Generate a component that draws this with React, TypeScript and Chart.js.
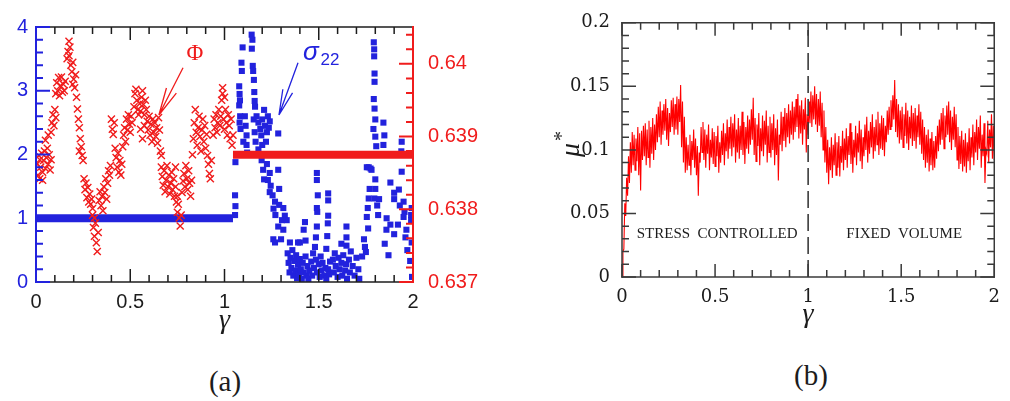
import React, { useEffect, useRef } from "react";
import { Chart, registerables } from "chart.js";

Chart.register(...registerables);

/* ---------- (a) packing fraction Φ and normal stress σ22 versus strain γ ---------- */

const gammaTickValues = [0, 0.5, 1, 1.5, 2];
const sigmaTickValues = [0, 1, 2, 3, 4];
const phiTickValues = [0.637, 0.638, 0.639, 0.64];

// σ22 is held at 1 while the sample is stress controlled
const sigmaControlled: [number, number][] = [[0, 1], [1.045, 1]];
// Φ stays put once the volume is fixed
const phiFixed: [number, number][] = [[1.045, 0.63875], [2, 0.63875]];

// [γ, Φ]
const phiSamples: [number, number][] = [
  [0.005, 0.63862], [0.01, 0.63847], [0.015, 0.63874], [0.02, 0.63842], [0.025, 0.63858], [0.03, 0.63877], [0.035, 0.63851], [0.04, 0.63867], [0.045, 0.6388], [0.05, 0.63856],
  [0.055, 0.63871], [0.06, 0.63884], [0.065, 0.63862], [0.07, 0.63875], [0.075, 0.63854], [0.08, 0.63868], [0.05, 0.63895], [0.065, 0.63902], [0.02, 0.63868], [0.035, 0.6384],
  [0.08, 0.63906], [0.085, 0.63919], [0.09, 0.6393], [0.095, 0.63915], [0.1, 0.63937], [0.105, 0.63926],
  [0.105, 0.63959], [0.11, 0.63974], [0.115, 0.63963], [0.12, 0.63981], [0.125, 0.63956], [0.13, 0.6397], [0.135, 0.63982], [0.14, 0.63961], [0.145, 0.63972], [0.15, 0.63963], [0.155, 0.63976],
  [0.165, 0.64007], [0.17, 0.64017], [0.175, 0.64031], [0.18, 0.64023], [0.175, 0.64011], [0.185, 0.63998], [0.19, 0.63989], [0.195, 0.64002], [0.2, 0.63979], [0.205, 0.63967], [0.21, 0.63985], [0.195, 0.63972],
  [0.215, 0.63954], [0.22, 0.63938], [0.225, 0.63924], [0.23, 0.63912], [0.235, 0.63897], [0.24, 0.63886], [0.245, 0.63874], [0.23, 0.6388], [0.25, 0.63867],
  [0.255, 0.63842], [0.26, 0.63827], [0.265, 0.63836], [0.27, 0.63816], [0.275, 0.6383], [0.28, 0.6381], [0.285, 0.63821], [0.29, 0.63807], [0.295, 0.63814], [0.3, 0.63801],
  [0.3, 0.63792], [0.305, 0.63775], [0.31, 0.63763], [0.315, 0.63781], [0.32, 0.63754], [0.325, 0.63742], [0.33, 0.63768], [0.31, 0.63788],
  [0.335, 0.63812], [0.34, 0.63824], [0.345, 0.63805], [0.35, 0.63818], [0.355, 0.63798], [0.36, 0.63831], [0.365, 0.63823], [0.37, 0.63842], [0.375, 0.63814], [0.38, 0.63836], [0.385, 0.63853], [0.39, 0.63847], [0.395, 0.6386],
  [0.4, 0.63924], [0.405, 0.6391], [0.41, 0.63903], [0.415, 0.63919],
  [0.42, 0.63884], [0.425, 0.63871], [0.43, 0.63858], [0.435, 0.63877], [0.44, 0.63851], [0.445, 0.63867], [0.45, 0.63847], [0.455, 0.63862], [0.46, 0.63886],
  [0.465, 0.63902], [0.47, 0.63912], [0.475, 0.63893], [0.48, 0.63924], [0.485, 0.63909], [0.49, 0.6393], [0.495, 0.63917], [0.5, 0.63906], [0.505, 0.63928], [0.51, 0.63919],
  [0.52, 0.63941], [0.525, 0.63959], [0.53, 0.63965], [0.535, 0.6395], [0.54, 0.63937], [0.545, 0.6393], [0.55, 0.63945], [0.555, 0.63935], [0.56, 0.63954], [0.565, 0.63963], [0.57, 0.63944], [0.575, 0.6393], [0.58, 0.6395], [0.585, 0.63937],
  [0.555, 0.6391], [0.565, 0.63897], [0.575, 0.63915], [0.59, 0.63921], [0.595, 0.63909], [0.6, 0.63928], [0.605, 0.63902], [0.61, 0.63917], [0.615, 0.63893], [0.62, 0.63924], [0.625, 0.63906], [0.63, 0.63919], [0.635, 0.639], [0.64, 0.63912], [0.645, 0.63891], [0.65, 0.63926], [0.655, 0.63909], [0.66, 0.6388], [0.665, 0.63874],
  [0.665, 0.63858], [0.67, 0.63845], [0.675, 0.63833], [0.68, 0.63853], [0.685, 0.63824], [0.69, 0.6384], [0.695, 0.6386], [0.7, 0.63831], [0.705, 0.63847], [0.71, 0.63821], [0.715, 0.63836], [0.72, 0.63851], [0.725, 0.63827], [0.73, 0.63842], [0.735, 0.63818], [0.74, 0.63831], [0.74, 0.63858],
  [0.745, 0.6381], [0.75, 0.63796], [0.755, 0.63807], [0.76, 0.63788], [0.765, 0.63777], [0.77, 0.63792], [0.75, 0.63818],
  [0.775, 0.63823], [0.78, 0.63839], [0.785, 0.63849], [0.79, 0.63831], [0.795, 0.6386], [0.8, 0.63842], [0.805, 0.63827], [0.81, 0.63853], [0.815, 0.63836], [0.82, 0.63818], [0.825, 0.6384],
  [0.83, 0.63875], [0.835, 0.63897], [0.84, 0.63919], [0.845, 0.63937], [0.85, 0.63906], [0.855, 0.63888], [0.86, 0.63912], [0.865, 0.63928], [0.87, 0.639], [0.875, 0.6388], [0.88, 0.63909], [0.885, 0.63924], [0.89, 0.63893], [0.895, 0.63915], [0.9, 0.63884], [0.905, 0.63903], [0.91, 0.63874],
  [0.915, 0.63862], [0.92, 0.63849], [0.925, 0.63842], [0.93, 0.63867],
  [0.94, 0.63902], [0.945, 0.63924], [0.95, 0.63912], [0.955, 0.6393], [0.96, 0.63906], [0.965, 0.63919], [0.97, 0.63937], [0.975, 0.63915], [0.98, 0.63928], [0.985, 0.6395], [0.99, 0.63959], [0.995, 0.63924],
  [1.0, 0.6391], [1.005, 0.63937], [1.01, 0.63919], [1.015, 0.63902], [1.02, 0.6393], [1.025, 0.63915], [1.03, 0.63897], [1.035, 0.63924], [1.04, 0.63888], [1.0, 0.63954], [0.99, 0.63967], [1.045, 0.63902],
];

// [γ, σ22]
const sigmaSamples: [number, number][] = [
  [1.056, 1.05], [1.058, 1.19], [1.056, 1.36], [1.058, 1.88],
  [1.078, 3.07], [1.08, 2.95], [1.082, 2.85], [1.078, 2.77], [1.083, 2.6], [1.08, 2.5], [1.09, 3.44], [1.092, 3.31], [1.096, 3.68], [1.085, 2.4],
  [1.108, 2.6], [1.112, 2.45], [1.117, 2.3], [1.117, 2.15], [1.12, 2.03], [1.1, 2.2],
  [1.144, 3.88], [1.148, 3.8], [1.145, 3.66], [1.15, 3.39], [1.152, 3.31], [1.156, 3.17], [1.158, 2.98], [1.16, 2.84], [1.162, 2.75], [1.155, 2.55], [1.16, 2.35], [1.165, 2.2],
  [1.17, 2.6], [1.18, 2.5], [1.19, 2.4], [1.195, 2.3], [1.2, 2.55], [1.21, 2.7], [1.215, 2.45], [1.22, 2.2], [1.225, 2.35], [1.23, 2.6], [1.235, 2.42], [1.2, 2.15], [1.18, 2.08], [1.285, 2.33], [1.24, 2.52],
  [1.197, 1.91], [1.205, 1.76], [1.21, 1.61], [1.24, 1.71], [1.245, 1.51], [1.24, 1.41], [1.255, 1.36], [1.268, 1.26], [1.285, 1.76], [1.29, 1.46], [1.29, 1.21], [1.312, 1.16], [1.32, 1.04],
  [1.305, 0.97], [1.285, 0.87], [1.312, 0.82], [1.33, 0.97], [1.259, 0.67], [1.268, 0.62], [1.3, 0.67], [1.347, 0.62], [1.225, 1.85], [1.23, 1.6], [1.26, 1.15], [1.27, 1.05],
  [1.335, 0.45], [1.34, 0.3], [1.345, 0.15], [1.35, 0.38], [1.355, 0.22], [1.36, 0.5], [1.365, 0.1], [1.37, 0.33], [1.375, 0.18], [1.38, 0.42], [1.385, 0.06], [1.39, 0.27],
  [1.395, 0.12], [1.4, 0.36], [1.405, 0.2], [1.41, 0.05], [1.415, 0.3], [1.42, 0.15], [1.43, 0.4], [1.435, 0.1], [1.44, 0.25], [1.445, 0.05], [1.45, 0.18],
  [1.46, 0.32], [1.465, 0.1], [1.47, 0.45], [1.475, 0.22], [1.48, 0.55], [1.485, 0.35], [1.49, 0.15], [1.5, 0.28], [1.505, 0.08], [1.51, 0.4], [1.515, 0.18], [1.52, 0.3],
  [1.53, 0.1], [1.535, 0.22], [1.54, 0.05], [1.55, 0.2], [1.555, 0.12], [1.56, 0.32],
  [1.575, 0.35], [1.58, 0.15], [1.585, 0.45], [1.59, 0.25], [1.6, 0.08], [1.605, 0.38], [1.61, 0.2], [1.62, 0.3], [1.625, 0.1], [1.63, 0.42], [1.64, 0.18], [1.645, 0.28],
  [1.65, 0.05], [1.66, 0.35], [1.665, 0.15], [1.67, 0.48], [1.68, 0.25], [1.69, 0.1], [1.7, 0.38], [1.71, 0.2], [1.715, 0.05],
  [1.427, 0.94], [1.42, 0.82], [1.43, 0.65], [1.4, 0.62], [1.39, 0.62],
  [1.49, 1.71], [1.49, 1.6], [1.495, 1.36], [1.49, 1.16], [1.492, 1.1], [1.49, 0.87], [1.485, 0.7],
  [1.55, 1.39], [1.55, 1.28], [1.55, 1.04], [1.548, 0.92], [1.545, 0.72], [1.54, 0.52],
  [1.647, 0.87], [1.647, 0.7], [1.647, 0.57], [1.62, 0.6],
  [1.74, 0.67], [1.745, 0.55], [1.75, 0.47], [1.755, 1.02], [1.76, 1.16], [1.762, 0.84], [1.73, 0.4],
  [1.755, 1.8], [1.765, 1.8], [1.775, 1.78], [1.78, 1.76], [1.8, 1.61], [1.8, 1.46], [1.77, 1.46], [1.765, 1.31], [1.795, 1.31], [1.81, 1.2], [1.815, 1.05], [1.82, 1.3],
  [1.859, 0.82], [1.87, 0.42], [1.85, 0.6], [1.86, 1.0],
  [1.94, 1.73], [1.88, 1.56], [1.9, 1.4], [1.9, 1.3], [1.925, 1.45], [1.93, 1.2], [1.95, 1.26], [1.955, 1.1], [1.95, 1.02], [1.965, 0.82], [1.993, 1.16], [1.99, 1.05],
  [1.99, 0.97], [1.993, 0.62], [1.985, 0.33], [1.995, 0.08], [1.97, 0.5], [1.96, 0.7], [1.92, 0.9], [1.9, 0.75], [1.88, 0.9],
  [1.792, 3.76], [1.794, 3.65], [1.794, 3.54], [1.796, 3.27], [1.796, 3.14], [1.792, 2.87], [1.796, 2.72], [1.8, 2.55], [1.79, 2.4], [1.8, 2.28], [1.805, 2.13],
  [1.843, 2.5], [1.848, 2.3], [1.843, 2.15], [1.94, 2.2], [1.938, 2.05],
];

/* ---------- (b) effective friction μ* versus strain γ ---------- */

const muGammaTicks = [0, 0.5, 1, 1.5, 2];
const muTickValues = [0, 0.05, 0.1, 0.15, 0.2];
// strain grid of the μ* trace, one bin per 0.01
const muStrain = Array.from({ length: 201 }, (_, i) => i / 100);
// lowest and highest μ* inside each bin, in thousandths
const muLowMilli = [
  0, 22, 48, 64, 74, 82, 88, 84, 91, 80,
  68, 92, 95, 88, 94, 86, 97, 92, 100, 106,
  110, 104, 112, 115, 108, 103, 114, 118, 112, 116,
  112, 122, 102, 90, 82, 84, 88, 80, 92, 86,
  80, 64, 90, 98, 92, 86, 97, 84, 94, 89,
  87, 95, 82, 90, 96, 88, 99, 93, 101, 95,
  102, 90, 98, 93, 100, 96, 89, 101, 97, 104,
  108, 96, 91, 103, 88, 99, 95, 104, 90, 98,
  94, 100, 88, 96, 76, 104, 99, 107, 102, 110,
  105, 112, 108, 114, 118, 109, 113, 104, 116, 98,
  112, 121, 118, 124, 120, 114, 119, 110, 100, 90,
  82, 73, 84, 78, 88, 80, 86, 79, 90, 84,
  92, 86, 96, 89, 82, 94, 88, 98, 91, 85,
  95, 100, 90, 97, 102, 93, 99, 104, 96, 101,
  100, 95, 106, 112, 116, 118, 124, 114, 110, 105,
  108, 102, 111, 105, 100, 109, 103, 107, 101, 110,
  104, 97, 92, 86, 90, 83, 88, 84, 86, 93,
  99, 104, 108, 101, 110, 112, 106, 100, 108, 102,
  92, 85, 89, 83, 87, 82, 91, 84, 94, 88,
  98, 92, 101, 86, 95, 74, 97, 90, 102, 93, 92,
];
const muHighMilli = [
  20, 58, 78, 95, 106, 114, 112, 109, 118, 113,
  115, 119, 121, 116, 123, 118, 125, 120, 128, 134,
  138, 131, 136, 140, 133, 129, 139, 141, 136, 142,
  140, 151, 138, 126, 110, 104, 112, 107, 116, 109,
  103, 98, 118, 122, 116, 112, 120, 108, 117, 114,
  111, 119, 106, 115, 121, 113, 124, 118, 126, 121,
  128, 116, 125, 119, 130, 122, 118, 127, 124, 132,
  141, 125, 120, 129, 117, 127, 123, 131, 119, 126,
  121, 128, 117, 124, 112, 130, 126, 133, 129, 136,
  131, 138, 134, 140, 144, 135, 139, 132, 141, 128,
  138, 146, 143, 150, 144, 140, 146, 137, 131, 118,
  108, 102, 110, 104, 113, 106, 111, 103, 115, 109,
  117, 111, 121, 114, 108, 119, 113, 123, 116, 110,
  120, 126, 115, 122, 128, 118, 124, 130, 121, 127,
  125, 119, 131, 134, 139, 143, 155, 140, 136, 131,
  134, 128, 137, 131, 126, 135, 129, 133, 127, 136,
  130, 124, 118, 112, 116, 109, 114, 107, 111, 119,
  124, 129, 133, 127, 135, 138, 131, 126, 134, 128,
  118, 111, 115, 108, 113, 106, 117, 110, 120, 114,
  124, 118, 127, 112, 121, 100, 123, 116, 128, 119, 112,
];
// switch from stress control to fixed volume
const switchStrain = [1, 1];
const switchLevel = [0, 0.2];

/* ---------- styling ---------- */

const BLUE = "#2222dd";
const RED = "#f01c1c";
const INK = "#1c1c1c";
const FRAME_B = "#3a3a3a";

const steps = (from: number, to: number, step: number) => {
  const out: number[] = [];
  for (let v = from; v <= to + step / 1000; v += step) out.push(Math.round(v * 1e6) / 1e6);
  return out;
};

type Side = "left" | "right" | "top" | "bottom";
interface FrameEdge {
  side: Side;
  scale: string;
  major: number[];
  minor: number[];
  majorLen: number;
  minorLen: number;
  color: string;
  width: number;
}

// plot frame with inward-pointing major and minor ticks
function framePlugin(edges: FrameEdge[]) {
  return {
    id: "frame",
    afterDatasetsDraw(chart: any) {
      const { ctx, chartArea: a } = chart;
      ctx.save();
      for (const e of edges) {
        const sc = chart.scales[e.scale];
        ctx.strokeStyle = e.color;
        ctx.lineWidth = e.width;
        ctx.lineCap = "square";
        ctx.beginPath();
        if (e.side === "left") { ctx.moveTo(a.left, a.top); ctx.lineTo(a.left, a.bottom); }
        if (e.side === "right") { ctx.moveTo(a.right, a.top); ctx.lineTo(a.right, a.bottom); }
        if (e.side === "top") { ctx.moveTo(a.left, a.top); ctx.lineTo(a.right, a.top); }
        if (e.side === "bottom") { ctx.moveTo(a.left, a.bottom); ctx.lineTo(a.right, a.bottom); }
        ctx.stroke();
        ctx.lineCap = "butt";
        ctx.beginPath();
        const mark = (v: number, len: number) => {
          const p = sc.getPixelForValue(v);
          if (e.side === "left") { ctx.moveTo(a.left, p); ctx.lineTo(a.left + len, p); }
          if (e.side === "right") { ctx.moveTo(a.right, p); ctx.lineTo(a.right - len, p); }
          if (e.side === "top") { ctx.moveTo(p, a.top); ctx.lineTo(p, a.top + len); }
          if (e.side === "bottom") { ctx.moveTo(p, a.bottom); ctx.lineTo(p, a.bottom - len); }
        };
        e.minor.forEach((v) => mark(v, e.minorLen));
        e.major.forEach((v) => mark(v, e.majorLen));
        ctx.stroke();
      }
      ctx.restore();
    },
  };
}

function drawArrow(ctx: CanvasRenderingContext2D, x0: number, y0: number, x1: number, y1: number, head: number, spread: number) {
  const ang = Math.atan2(y1 - y0, x1 - x0);
  ctx.beginPath();
  ctx.moveTo(x0, y0);
  ctx.lineTo(x1, y1);
  for (const s of [-spread, spread]) {
    ctx.moveTo(x1, y1);
    ctx.lineTo(x1 - head * Math.cos(ang + s), y1 - head * Math.sin(ang + s));
  }
  ctx.stroke();
}

// label anchors, in data units of (a)
const phiLabelAt = { x: 0.843, y: 3.57 };
const phiArrowFrom = { x: 0.78, y: 3.36 };
const phiArrowTo = { x: 0.652, y: 2.62 };
const sigmaLabelAt = { x: 1.416, y: 3.6 };
const sigmaArrowFrom = { x: 1.39, y: 3.44 };
const sigmaArrowTo = { x: 1.289, y: 2.62 };

const notesA = {
  id: "notesA",
  afterDatasetsDraw(chart: any) {
    const { ctx, chartArea: a } = chart;
    const X = chart.scales.x;
    const Y = chart.scales.y;
    ctx.save();
    ctx.textBaseline = "middle";
    // Φ
    ctx.fillStyle = RED;
    ctx.strokeStyle = RED;
    ctx.lineWidth = 1.3;
    ctx.font = "23px 'Liberation Serif'";
    ctx.textAlign = "center";
    ctx.fillText("Φ", X.getPixelForValue(phiLabelAt.x), Y.getPixelForValue(phiLabelAt.y));
    drawArrow(ctx, X.getPixelForValue(phiArrowFrom.x), Y.getPixelForValue(phiArrowFrom.y),
      X.getPixelForValue(phiArrowTo.x), Y.getPixelForValue(phiArrowTo.y), 28, 0.2);
    // σ22
    ctx.fillStyle = BLUE;
    ctx.strokeStyle = BLUE;
    ctx.textAlign = "left";
    ctx.font = "italic 26px 'Liberation Sans'";
    const sx = X.getPixelForValue(sigmaLabelAt.x);
    const sy = Y.getPixelForValue(sigmaLabelAt.y);
    ctx.fillText("σ", sx, sy);
    const w = ctx.measureText("σ").width;
    ctx.font = "17px 'Liberation Sans'";
    ctx.fillText("22", sx + w + 2, sy + 8);
    drawArrow(ctx, X.getPixelForValue(sigmaArrowFrom.x), Y.getPixelForValue(sigmaArrowFrom.y),
      X.getPixelForValue(sigmaArrowTo.x), Y.getPixelForValue(sigmaArrowTo.y), 26, 0.2);
    // axis title
    ctx.fillStyle = INK;
    ctx.textAlign = "center";
    ctx.font = "italic 28px 'Liberation Serif'";
    ctx.fillText("γ", (a.left + a.right) / 2, a.bottom + 39);
    ctx.restore();
  },
};

// regime labels, in data units of (b)
const stressLabelAt = { x: 0.079, y: 0.0336 };
const fixedLabelAt = { x: 1.205, y: 0.0336 };

const notesB = {
  id: "notesB",
  afterDatasetsDraw(chart: any) {
    const { ctx, chartArea: a } = chart;
    const X = chart.scales.x;
    const Y = chart.scales.y;
    ctx.save();
    ctx.fillStyle = INK;
    ctx.textBaseline = "middle";
    ctx.textAlign = "left";
    ctx.font = "15px 'Liberation Serif'";
    ctx.fillText("STRESS  CONTROLLED", X.getPixelForValue(stressLabelAt.x), Y.getPixelForValue(stressLabelAt.y));
    ctx.fillText("FIXED  VOLUME", X.getPixelForValue(fixedLabelAt.x), Y.getPixelForValue(fixedLabelAt.y));
    ctx.textAlign = "center";
    ctx.font = "italic 28px 'Liberation Serif'";
    ctx.fillText("γ", (a.left + a.right) / 2, a.bottom + 38);
    // μ* running up the left side
    ctx.translate(a.left - 50, (a.top + a.bottom) / 2);
    ctx.rotate(-Math.PI / 2);
    ctx.fillText("μ", 0, 0);
    ctx.font = "20px 'Liberation Serif'";
    ctx.fillText("*", 14, -9);
    ctx.restore();
  },
};

const fixedTicks = (values: number[]) => (scale: any) => {
  scale.ticks = values.map((value) => ({ value }));
};
const fmt = (digits: number) => (v: any) => String(+Number(v).toFixed(digits));

function configA(): any {
  return {
    type: "scatter",
    data: {
      datasets: [
        {
          label: "Φ",
          data: phiSamples.map(([x, y]) => ({ x, y })),
          yAxisID: "y1",
          pointStyle: "crossRot",
          pointRadius: 5,
          borderColor: RED,
          backgroundColor: RED,
          borderWidth: 1.4,
        },
        {
          label: "Φ fixed",
          data: phiFixed.map(([x, y]) => ({ x, y })),
          yAxisID: "y1",
          showLine: true,
          pointRadius: 0,
          borderColor: RED,
          borderWidth: 8,
        },
        {
          label: "σ22",
          data: sigmaSamples.map(([x, y]) => ({ x, y })),
          yAxisID: "y",
          pointStyle: "rect",
          pointRadius: 4.3,
          backgroundColor: BLUE,
          borderWidth: 0,
        },
        {
          label: "σ22 controlled",
          data: sigmaControlled.map(([x, y]) => ({ x, y })),
          yAxisID: "y",
          showLine: true,
          pointRadius: 0,
          borderColor: BLUE,
          borderWidth: 8,
        },
      ],
    },
    options: {
      animation: false,
      responsive: false,
      events: [],
      layout: { padding: { top: 12, left: 0, right: 0, bottom: 0 } },
      plugins: { legend: { display: false }, tooltip: { enabled: false } },
      scales: {
        x: {
          type: "linear",
          min: 0,
          max: 2,
          grid: { display: false, drawTicks: false },
          border: { display: false },
          afterBuildTicks: fixedTicks(gammaTickValues),
          afterFit: (s: any) => { s.height = 63; },
          ticks: { padding: 8, color: INK, autoSkip: false, maxRotation: 0, callback: fmt(1), font: { family: "Liberation Sans", size: 20 } },
        },
        y: {
          type: "linear",
          position: "left",
          min: 0,
          max: 4,
          grid: { display: false, drawTicks: false },
          border: { display: false },
          afterBuildTicks: fixedTicks(sigmaTickValues),
          afterFit: (s: any) => { s.width = 36; },
          ticks: { padding: 8, color: BLUE, callback: fmt(0), font: { family: "Liberation Sans", size: 20 } },
        },
        y1: {
          type: "linear",
          position: "right",
          min: 0.637,
          max: 0.6405065,
          grid: { display: false, drawTicks: false },
          border: { display: false },
          afterBuildTicks: fixedTicks(phiTickValues),
          afterFit: (s: any) => { s.width = 82; },
          ticks: { padding: 15, color: RED, callback: fmt(3), font: { family: "Liberation Sans", size: 20 } },
        },
      },
    },
    plugins: [
      framePlugin([
        { side: "bottom", scale: "x", major: gammaTickValues, minor: steps(0, 2, 0.1), majorLen: 13, minorLen: 7, color: INK, width: 1.5 },
        { side: "top", scale: "x", major: gammaTickValues, minor: steps(0, 2, 0.1), majorLen: 13, minorLen: 7, color: INK, width: 1.5 },
        { side: "left", scale: "y", major: sigmaTickValues, minor: steps(0, 4, 0.2), majorLen: 14, minorLen: 7, color: BLUE, width: 2 },
        { side: "right", scale: "y1", major: phiTickValues, minor: steps(0.637, 0.6405, 0.0002), majorLen: 14, minorLen: 7, color: RED, width: 2 },
      ]),
      notesA,
    ],
  };
}

function configB(): any {
  const trace = muStrain.flatMap((g, i) => [
    { x: g, y: muLowMilli[i] / 1000 },
    { x: g + 0.005, y: muHighMilli[i] / 1000 },
  ]);
  return {
    type: "scatter",
    data: {
      datasets: [
        {
          label: "regime switch",
          data: switchStrain.map((x, i) => ({ x, y: switchLevel[i] })),
          showLine: true,
          pointRadius: 0,
          borderColor: FRAME_B,
          borderWidth: 1.6,
          borderDash: [17, 6],
        },
        {
          label: "μ*",
          data: trace,
          showLine: true,
          pointRadius: 0,
          borderColor: "#ff0000",
          borderWidth: 1.1,
        },
      ],
    },
    options: {
      animation: false,
      responsive: false,
      events: [],
      layout: { padding: { top: 20, left: 0, right: 8, bottom: 0 } },
      plugins: { legend: { display: false }, tooltip: { enabled: false } },
      scales: {
        x: {
          type: "linear",
          min: 0,
          max: 2,
          grid: { display: false, drawTicks: false },
          border: { display: false },
          afterBuildTicks: fixedTicks(muGammaTicks),
          afterFit: (s: any) => { s.height = 68; },
          ticks: { padding: 10, color: INK, autoSkip: false, maxRotation: 0, callback: fmt(1), font: { family: "DejaVu Serif", size: 18 } },
        },
        y: {
          type: "linear",
          min: 0,
          max: 0.2,
          grid: { display: false, drawTicks: false },
          border: { display: false },
          afterBuildTicks: fixedTicks(muTickValues),
          afterFit: (s: any) => { s.width = 92; },
          ticks: { padding: 12, color: INK, callback: fmt(2), font: { family: "DejaVu Serif", size: 18 } },
        },
      },
    },
    plugins: [
      framePlugin([
        { side: "bottom", scale: "x", major: muGammaTicks, minor: steps(0, 2, 0.1), majorLen: 13, minorLen: 7, color: FRAME_B, width: 1.5 },
        { side: "top", scale: "x", major: muGammaTicks, minor: steps(0, 2, 0.1), majorLen: 13, minorLen: 7, color: FRAME_B, width: 1.5 },
        { side: "left", scale: "y", major: muTickValues, minor: steps(0, 0.2, 0.01), majorLen: 14, minorLen: 7, color: FRAME_B, width: 1.5 },
        { side: "right", scale: "y", major: muTickValues, minor: steps(0, 0.2, 0.01), majorLen: 14, minorLen: 7, color: FRAME_B, width: 1.5 },
      ]),
      notesB,
    ],
  };
}

export default function App() {
  const refA = useRef<HTMLCanvasElement>(null);
  const refB = useRef<HTMLCanvasElement>(null);

  useEffect(() => {
    const a = new Chart(refA.current as HTMLCanvasElement, configA());
    const b = new Chart(refB.current as HTMLCanvasElement, configB());
    return () => {
      a.destroy();
      b.destroy();
    };
  }, []);

  const caption: React.CSSProperties = {
    position: "absolute",
    width: 100,
    textAlign: "center",
    font: "29px 'Liberation Serif'",
    lineHeight: "30px",
    color: INK,
  };

  return (
    <div style={{ position: "fixed", left: 0, top: 0, width: 1010, height: 401, background: "#fff", overflow: "hidden" }}>
      <canvas ref={refA} width={495} height={345} style={{ position: "absolute", left: 0, top: 0, width: 495, height: 345 }} />
      <canvas ref={refB} width={480} height={345} style={{ position: "absolute", left: 530, top: 0, width: 480, height: 345 }} />
      <div style={{ ...caption, left: 175, top: 366 }}>(a)</div>
      <div style={{ ...caption, left: 761, top: 360 }}>(b)</div>
    </div>
  );
}
